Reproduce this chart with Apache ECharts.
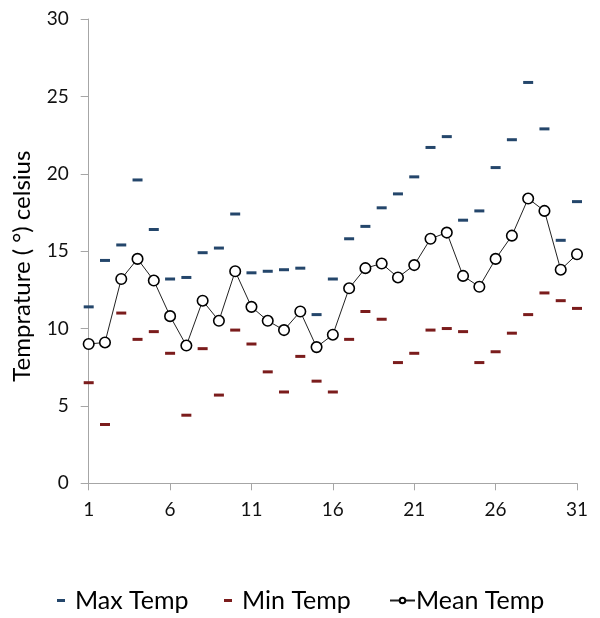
<!DOCTYPE html>
<html>
<head>
<meta charset="utf-8">
<script src="https://cdn.jsdelivr.net/npm/echarts@6/dist/echarts.min.js"></script>
<style>html,body{margin:0;padding:0;background:#fff}#c{width:600px;height:618px}</style>
</head>
<body>
<div id="c"></div>
<script>
var days = [];
for (var d = 1; d <= 31; d++) days.push(String(d));
var maxTemp = [11.4,14.4,15.4,19.6,16.4,13.2,13.3,14.9,15.2,17.4,13.6,13.7,13.8,13.9,10.9,13.2,15.8,16.6,17.8,18.7,19.8,21.7,22.4,17.0,17.6,20.4,22.2,25.9,22.9,15.7,18.2];
var minTemp = [6.5,3.8,11.0,9.3,9.8,8.4,4.4,8.7,5.7,9.9,9.0,7.2,5.9,8.2,6.6,5.9,9.3,11.1,10.6,7.8,8.4,9.9,10.0,9.8,7.8,8.5,9.7,10.9,12.3,11.8,11.3];
var meanTemp = [9.0,9.1,13.2,14.5,13.1,10.8,8.9,11.8,10.5,13.7,11.4,10.5,9.9,11.1,8.8,9.6,12.6,13.9,14.2,13.3,14.1,15.8,16.2,13.4,12.7,14.5,16.0,18.4,17.6,13.8,14.8];
var yTicks = {min: 0, max: 30, interval: 5};

var FONT = 'Lato';
var maxColor = '#24466b';
var minColor = '#7b1c1c';
var chart = echarts.init(document.getElementById('c'), null, {renderer: 'canvas'});
var legendText = {fontFamily: FONT, fontSize: 25, color: '#000', padding: [0, 0, 0, 5]};
chart.setOption({
  animation: false,
  backgroundColor: '#fff',
  grid: {left: 88.7, right: 23, top: 19, bottom: 134.7, containLabel: false},
  xAxis: {
    type: 'category', data: days, boundaryGap: false,
    axisLine: {lineStyle: {color: '#a6a6a6', width: 1}},
    axisTick: {interval: 4, length: 7, lineStyle: {color: '#a6a6a6'}},
    axisLabel: {interval: 4, fontFamily: FONT, fontSize: 19, color: '#111', margin: 17},
    splitLine: {show: false}
  },
  yAxis: {
    type: 'value', min: yTicks.min, max: yTicks.max, interval: yTicks.interval,
    name: 'Temprature ( °) celsius', nameLocation: 'middle', nameGap: 54,
    nameTextStyle: {fontFamily: FONT, fontSize: 24, color: '#000', padding: [0, 30, 0, 0]},
    axisLine: {show: true, lineStyle: {color: '#a6a6a6', width: 1}},
    axisTick: {show: true, length: 8, lineStyle: {color: '#a6a6a6'}},
    axisLabel: {fontFamily: FONT, fontSize: 19, color: '#111', margin: 20},
    splitLine: {show: false}
  },
  legend: [
    {data: [{name: 'Max Temp', icon: 'rect'}], left: 52, top: 583, itemWidth: 8, itemHeight: 3, itemGap: 0, textStyle: legendText},
    {data: [{name: 'Min Temp', icon: 'rect'}], left: 219, top: 583, itemWidth: 8, itemHeight: 3, itemGap: 0, textStyle: legendText},
    {data: [{name: 'Mean Temp'}], left: 384, top: 583, itemWidth: 25, itemHeight: 7, itemGap: 0,
      textStyle: {fontFamily: FONT, fontSize: 25, color: '#000', padding: [0, 0, 0, -4]}}
  ],
  series: [
    {name: 'Max Temp', type: 'line', data: maxTemp, symbol: 'rect', symbolSize: [10, 3],
      lineStyle: {width: 0, opacity: 0}, itemStyle: {color: maxColor}, z: 2},
    {name: 'Min Temp', type: 'line', data: minTemp, symbol: 'rect', symbolSize: [10, 3],
      lineStyle: {width: 0, opacity: 0}, itemStyle: {color: minColor}, z: 2},
    {name: 'Mean Temp', type: 'line', data: meanTemp, symbol: 'circle', symbolSize: 10.5,
      showAllSymbol: true,
      lineStyle: {color: '#222', width: 1}, itemStyle: {color: '#fff', borderColor: '#000', borderWidth: 1.6}, z: 3}
  ]
});
</script>
</body>
</html>
